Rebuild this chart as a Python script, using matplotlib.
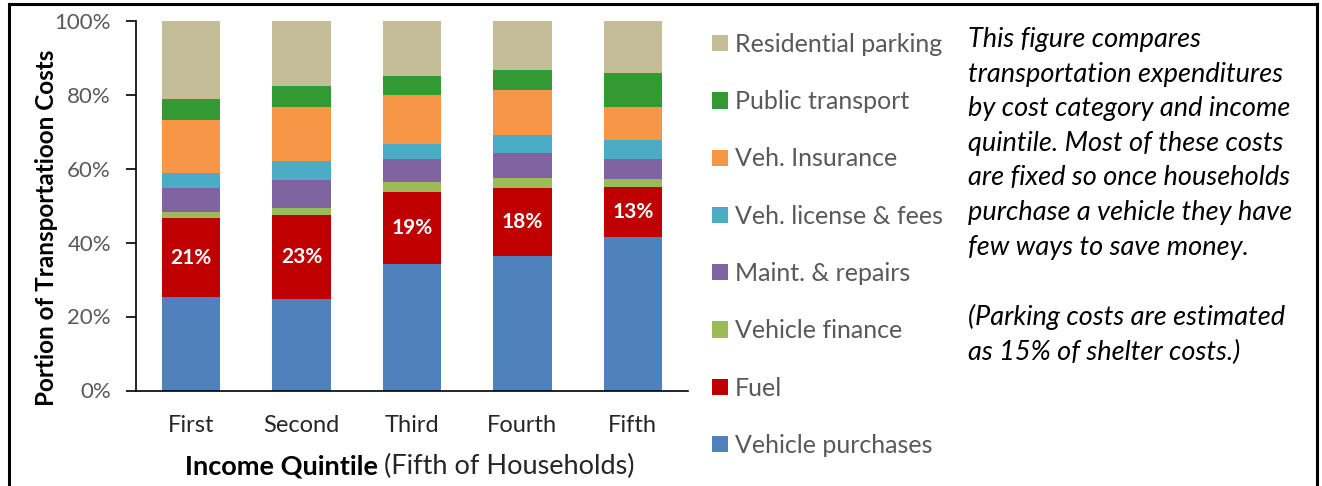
import matplotlib
matplotlib.use("Agg")
import matplotlib.pyplot as plt
import numpy as np
from matplotlib.lines import Line2D

plt.rcParams['font.family'] = ['Lato', 'DejaVu Sans']

quintiles = ["First", "Second", "Third", "Fourth", "Fifth"]

# shares of transportation costs, % (bottom to top of each bar)
vehicle_purchases = [25.2, 24.8, 34.3, 36.3, 41.5]
fuel = [21.3, 22.6, 19.4, 18.3, 13.4]
vehicle_finance = [1.7, 1.9, 2.7, 2.9, 2.2]
maint_repairs = [6.6, 7.6, 6.1, 6.6, 5.5]
license_fees = [3.9, 5.2, 4.2, 4.9, 5.1]
insurance = [14.4, 14.5, 13.2, 12.2, 8.8]
public_transport = [5.7, 5.7, 5.2, 5.5, 9.4]
residential_parking = [21.2, 17.7, 14.9, 13.3, 13.9]

fuel_labels = ["21%", "23%", "19%", "18%", "13%"]

series = [
    ("Vehicle purchases", vehicle_purchases, "#4F81BD"),
    ("Fuel", fuel, "#C00000"),
    ("Vehicle finance", vehicle_finance, "#9BBB59"),
    ("Maint. & repairs", maint_repairs, "#8064A2"),
    ("Veh. license & fees", license_fees, "#4BACC6"),
    ("Veh. Insurance", insurance, "#F79646"),
    ("Public transport", public_transport, "#339933"),
    ("Residential parking", residential_parking, "#C4BD97"),
]

W, H = 1322, 486
fig = plt.figure(figsize=(W / 100, H / 100), dpi=100)
ax = fig.add_axes([136 / W, 1 - 390.5 / H, 552 / W, 370 / H])

x = np.arange(len(quintiles))
bottom = np.zeros(len(quintiles))
bars = {}
for name, vals, col in series:
    vals = np.array(vals)
    bars[name] = ax.bar(x, vals, 0.53, bottom=bottom, color=col, label=name,
                        edgecolor='none')
    if name == "Fuel":
        for xi, b, v, lab in zip(x, bottom, vals, fuel_labels):
            ax.text(xi, b + v / 2, lab, ha='center', va='center', color='white',
                    fontsize=15, fontweight='bold')
    bottom = bottom + vals

ax.set_xlim(-0.5, 4.5)
ax.set_ylim(0, 100)
ax.set_yticks(np.arange(0, 101, 20))
ax.set_yticklabels([f"{v}%" for v in range(0, 101, 20)])
ax.set_xticks(x)
ax.set_xticklabels(quintiles)
ax.tick_params(axis='y', length=7, width=1.2, colors='black', labelcolor='#595959',
               labelsize=16, pad=11)
ax.tick_params(axis='x', length=0, labelsize=17, labelcolor='#262626', pad=18)
for s in ['top', 'right']:
    ax.spines[s].set_visible(False)
ax.spines['left'].set_linewidth(1.2)
ax.spines['bottom'].set_linewidth(1.2)

ax.set_ylabel("Portion of Transportatioon Costs", fontsize=17.5, fontweight='bold')
ax.yaxis.set_label_coords(-0.141, 0.44)

# x-axis title: bold part + regular part
t1 = fig.text(185 / W, 1 - 474 / H, "Income Quintile", fontsize=19.5,
              fontweight='bold', va='baseline', ha='left')
fig.canvas.draw()
bb = t1.get_window_extent()
fig.text((bb.x1 + 6) / W, 1 - 474 / H, "(Fifth of Households)", fontsize=19.5,
         va='baseline', ha='left', color='#262626')

handles = [bars[name] for name, _, _ in series][::-1]
labels = [name for name, _, _ in series][::-1]
fig.legend(handles, labels, loc='upper left', bbox_to_anchor=(712 / W, 1 - 33 / H),
           frameon=False, fontsize=18, labelcolor='#595959', labelspacing=1.37,
           handlelength=0.62, handleheight=0.62, handletextpad=0.28,
           borderpad=0, borderaxespad=0)

note = ("This figure compares\n"
        "transportation expenditures\n"
        "by cost category and income\n"
        "quintile. Most of these costs\n"
        "are fixed so once households\n"
        "purchase a vehicle they have\n"
        "few ways to save money.\n"
        "\n"
        "(Parking costs are estimated\n"
        "as 15% of shelter costs.)")
fig.text(968 / W, 1 - 27 / H, note, fontsize=19.5, style='italic', va='top',
         ha='left', linespacing=1.48, color='black')

# page frame
lw = 2.2
fig.add_artist(Line2D([9 / W, 9 / W], [0, 1 - 4 / H], color='black', lw=lw))
fig.add_artist(Line2D([1317 / W, 1317 / W], [0, 1 - 4 / H], color='black', lw=lw))
fig.add_artist(Line2D([9 / W, 1317 / W], [1 - 4 / H, 1 - 4 / H], color='black', lw=lw))

fig.savefig("out.png", dpi=100)
